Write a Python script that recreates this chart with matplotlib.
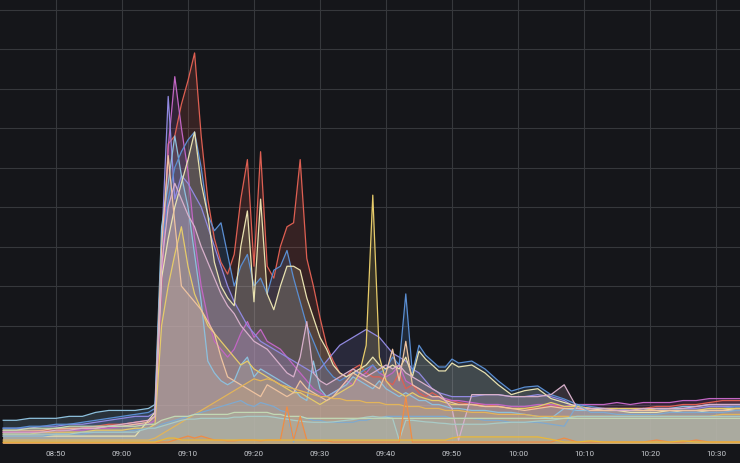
import numpy as np
import matplotlib
matplotlib.use('Agg')
import matplotlib.pyplot as plt

# minutes after 08:40 (1 min in the busy part, 2 min elsewhere)
minutes = list(range(2, 25, 2)) + list(range(25, 72)) + list(range(73, 116, 2))
tick_minutes = [10, 20, 30, 40, 50, 60, 70, 80, 90, 100, 110]
tick_labels = ['08:50', '09:00', '09:10', '09:20', '09:30', '09:40',
               '09:50', '10:00', '10:10', '10:20', '10:30']

red = [3, 3, 3, 3.5, 3.5, 4, 4, 4.5, 5, 5, 5.5, 6,
       7, 40, 76, 78, 86, 92, 99, 78, 62, 52,
       46, 43, 48, 62, 72, 45, 74, 45, 42, 50,
       55, 56, 72, 47, 40, 32, 25, 21, 18, 17,
       19, 20, 18, 17, 17, 16, 15, 18, 14, 15,
       13, 12, 13, 12, 11, 11, 10.5,
       10, 10, 9.5, 9, 9, 9, 10, 9, 9, 8.5, 9, 9, 9, 9, 9.5, 9.5, 10, 10, 10.5, 11, 11, 11]
magenta = [3, 3, 3, 3, 3, 3.5, 3.5, 4, 4, 4.5, 5, 5,
           6, 40, 75, 93, 80, 69, 52, 40, 32, 26,
           24, 22, 24, 28, 31, 27, 29, 26, 25, 24,
           22, 20, 18, 16, 14, 13, 12, 13, 14, 16,
           15, 17, 18, 20, 18, 17, 18, 20, 16, 15,
           14, 13, 12, 12, 11.5, 11, 11,
           10.5, 10, 10, 9.5, 9.5, 10, 10, 9.5, 10, 10, 10, 10.5, 10, 10.5, 10.5, 10.5, 11, 11, 11.5, 11.5, 11.5, 11.5]
lavender = [4, 4, 4, 4.5, 4.5, 5, 5, 5.5, 6, 6.5, 7, 7,
            8, 50, 88, 62, 68, 66, 63, 60, 55, 50,
            45, 40, 36, 33, 30, 28, 26, 25, 24, 23,
            22, 21, 20, 19, 18, 19, 21, 23, 25, 26,
            27, 28, 29, 28, 27, 25, 23, 22, 21, 19,
            18, 16, 14, 13, 12.5, 12, 12,
            12, 12.5, 12.5, 12, 12, 12.5, 12, 11, 9, 9, 8.5, 8.5, 8.5, 8.5, 8.5, 9, 9, 9, 9.5, 9.5, 9.5, 9.5]
light_blue = [6, 6, 6.5, 6.5, 6.5, 7, 7, 8, 8.5, 8.5, 8.5, 9,
              10, 55, 66, 78, 68, 60, 48, 36, 21, 18,
              16, 15, 16, 20, 22, 17, 19, 18, 17, 16,
              15, 14, 12, 11, 21, 14, 12, 13, 14, 15,
              17, 16, 15, 14, 16, 14, 13, 12, 13, 12,
              11, 11, 10, 10, 9.5, 9, 9,
              8.5, 8.5, 8, 8, 7.5, 7, 6.5, 9, 8.5, 8.5, 8.5, 8.5, 8.5, 8.5, 9, 9, 9.5, 9.5, 10, 10, 10, 10]
blue = [4, 4, 4.5, 4.5, 5, 5, 5.5, 6, 6.5, 7, 7.5, 8,
        9, 50, 62, 70, 74, 77, 79, 70, 58, 54,
        56, 48, 40, 45, 48, 40, 42, 38, 44, 45,
        49, 42, 36, 30, 26, 22, 19, 17, 16, 17,
        18, 18, 19, 20, 18, 19, 22, 20, 38, 18,
        25, 22.5, 21, 19.5, 19.5, 21.5, 20.5,
        21, 19, 16, 13.4, 14.4, 14.7, 12.5, 11.4, 10, 9.5, 9, 9, 8.5, 8.5, 8.5, 9, 8.5, 8.5, 9, 9, 9.5, 9.5]
cream = [2, 2, 2, 2, 2, 2, 2, 2, 2, 2, 2, 6,
         8, 42, 52, 60, 66, 72, 79, 66, 58, 46,
         40, 37, 35, 50, 59, 36, 62, 38, 34, 40,
         45, 45, 44, 37, 32, 27, 24, 20, 18, 17,
         18, 19, 20, 22, 20, 19, 20, 19, 22, 17,
         23.5, 21.5, 20, 18.5, 18.5, 20.5, 19.5,
         20, 18, 15, 12.5, 13.5, 14, 11.5, 10.5, 9.5, 9, 8.5, 8.5, 8, 8, 8, 8.5, 8, 8, 8.5, 8.5, 9, 9]
yellow = [2.5, 2.5, 2.5, 3, 3, 3, 3, 3.5, 3.5, 3.5, 4, 4,
          5, 30, 40, 48, 55, 45, 38, 34, 30, 28,
          26, 24, 22, 20, 21, 19, 18, 17, 16, 15,
          14, 13, 13, 12, 11, 10, 11, 12, 13, 14,
          15, 18, 25, 63, 22, 16, 14, 13, 12, 13,
          12, 11.5, 11, 11, 10.5, 10, 10,
          10, 9.5, 9.5, 9, 9, 9.5, 10.5, 9.5, 9.5, 9, 9, 9, 9, 9, 8.5, 8.5, 8.5, 8.5, 9, 9, 9, 9]
peach = [3.5, 3.5, 3.5, 3.5, 4, 4, 4, 4, 4.5, 4.5, 5, 5.5,
         7, 50, 73, 56, 40, 38, 36, 34, 31, 28,
         22, 17, 16, 15, 14, 13, 12, 15, 14, 13,
         12, 13, 16, 14, 13, 12, 11, 12, 14, 16,
         18, 17, 16, 15, 14, 18, 24, 16, 26, 15,
         14, 13, 12, 12, 11, 10.5, 10,
         10, 9.5, 9.5, 9, 8.5, 9, 9.5, 9, 9, 8.5, 8.5, 8.5, 8.5, 8.5, 8.5, 8.5, 8.5, 8.5, 8.5, 8.5, 8.5, 8.5]
pink = [3, 3, 3, 3, 3.5, 3.5, 4, 4, 4.5, 5, 5.5, 6,
        7, 45, 60, 66, 62, 58, 55, 50, 46, 42,
        38, 35, 33, 30, 28, 26, 25, 24, 22, 20,
        18, 17, 22, 31, 18, 16, 15, 16, 17, 18,
        19, 18, 17, 18, 19, 20, 19, 20, 18, 17,
        16, 15, 14, 13, 11, 9, 1,
        12.5, 12.5, 12.5, 12, 12, 12, 12.5, 15, 9, 9, 9, 8.5, 8.5, 9, 9, 9, 9, 9.5, 10, 10, 10, 10]
amber = [1, 1, 1, 1, 1, 1, 1, 1, 1, 1, 1, 1,
         1.5, 2.5, 3.5, 4.5, 5.5, 6.5, 7.5, 8.5, 9.5, 10.5,
         11.5, 12.5, 13.5, 14.5, 15.5, 16.5, 16, 16.5, 16, 15,
         14.5, 14, 13.5, 13, 12.5, 12, 12, 11.5, 11.5, 11,
         11, 11, 10.5, 10.5, 10.5, 10, 10, 10, 9.5, 9.5,
         9.5, 9, 9, 9, 8.5, 8.5, 8.5,
         8, 8, 7.5, 7.5, 7.5, 7, 7, 7, 7, 7, 7, 7, 7, 7, 7, 7, 7, 7, 7, 7.5, 7.5, 7.5]
steel = [2, 2, 2, 2, 2.5, 2.5, 2.5, 3, 3, 3, 3.5, 4,
         4, 5, 5.5, 6, 6.5, 7, 7.5, 8, 8.5, 9,
         9.5, 10, 10.5, 11, 10, 9.5, 10.5, 10, 9.5, 8.5,
         8, 0.5, 7, 6.5, 6, 6, 5.5, 5.5, 5.5, 5.5,
         5.5, 6, 6, 6.5, 6.5, 7, 7, 7, 7, 7,
         7, 7, 7, 7, 7, 6.5, 6.5,
         6.5, 6, 6, 5.5, 5.5, 5.5, 5, 4.5, 10, 8, 8, 7.5, 7.5, 7.5, 7.5, 8, 8, 8, 8, 8, 8.5, 8.5]
teal = [2.5, 2.5, 2.5, 2.5, 2.5, 2.5, 3, 3, 3, 3, 3, 4,
        4, 4.5, 5, 5.5, 6, 6.3, 6.3, 6.5, 6.5, 6.5,
        6.5, 6.5, 6.8, 6.8, 7, 7, 7, 7, 6.8, 6.5,
        6.3, 6, 5.8, 5.6, 5.5, 5.5, 5.5, 5.6, 5.8, 6,
        6.2, 6.5, 6.8, 7, 6.8, 6.8, 6.5, 1, 6, 6,
        5.8, 5.6, 5.5, 5.3, 5.2, 5, 5,
        5, 5, 5.3, 5.5, 5.5, 5.8, 6, 6.5, 7, 7, 7, 7, 7, 7, 7, 7, 7, 7, 7, 7, 7, 7]
pale_green = [3.5, 3.5, 4, 4, 4, 4.5, 4.5, 4.5, 4.5, 4.5, 4.5, 5,
              5, 6, 6.5, 7, 7, 7, 7.5, 7.5, 7.5, 7.5,
              7.5, 7.5, 8, 8, 8, 8, 8, 8, 7.5, 7.5,
              7, 7, 7, 6.5, 6.5, 6.5, 6.5, 6.5, 6.5, 6.5,
              6.5, 6.5, 6.5, 6.5, 6.5, 6.5, 6.5, 6.5, 6.5, 6.5,
              6.5, 6.5, 6.5, 6.5, 6.5, 6.5, 6.5,
              6.5, 6.5, 6.5, 6.5, 6.5, 6.5, 6.5, 6.5, 6.5, 6.5, 6.5, 6.5, 6.5, 6.5, 6.5, 6.5, 6.5, 6.5, 6.5, 6.5, 6.5, 6.5]
orange = [0.3, 0.3, 0.3, 0.3, 0.3, 0.3, 0.3, 0.3, 0.3, 0.3, 0.3, 0.3,
          0.3, 0.5, 0.5, 1, 1.5, 2, 1.5, 2, 1.5, 1,
          1, 0.8, 0.8, 1, 1, 1, 0.8, 1, 1, 1,
          9.4, 1, 7, 1, 0.8, 0.8, 0.8, 0.5, 0.5, 0.5,
          0.5, 0.5, 0.5, 0.5, 0.5, 0.5, 0.5, 0.5, 12, 0.5,
          0.5, 0.5, 0.5, 0.5, 0.5, 0.5, 0.5,
          0.5, 0.5, 0.5, 0.5, 0.5, 0.5, 0.5, 1.5, 0.5, 0.5, 0.5, 0.5, 0.5, 0.5, 1, 0.5, 0.5, 1, 0.5, 0.5, 0.5, 0.5]
gold = [0.5, 0.5, 0.5, 0.5, 0.5, 0.5, 0.5, 0.5, 0.5, 0.5, 0.5, 0.5,
        0.5, 1, 1.5, 1.5, 1, 1, 1, 1, 1, 1,
        1, 1, 1, 1, 1, 1, 1, 1, 1, 1,
        1, 1, 1, 1, 1, 1, 1, 1, 1, 1,
        1, 1, 1, 1, 1, 1, 1, 1, 1, 1,
        1, 1, 1, 1, 1, 1.5, 1.8,
        1.8, 1.8, 1.8, 1.8, 1.8, 1.8, 1.2, 0.5, 0.5, 0.8, 0.5, 0.5, 0.5, 0.5, 0.5, 0.5, 0.8, 0.5, 0.5, 0.5, 0.5, 0.5]

series = [
    (red, '#DE5F52'), (magenta, '#C266C4'), (lavender, '#9189E0'),
    (light_blue, '#8DC0DD'), (blue, '#5A8ED2'), (cream, '#E9E2B0'),
    (yellow, '#E6CB6A'), (peach, '#EEC3A0'), (pink, '#D8B0CB'),
    (amber, '#E2B45A'), (steel, '#7FA9CF'), (teal, '#A9CBC6'),
    (pale_green, '#C3D9B4'), (orange, '#EF8C45'), (gold, '#EAB839'),
]

bg = '#15161a'
fig = plt.figure(figsize=(7.4, 4.64), dpi=100, facecolor=bg)
ax = fig.add_axes([0, 19 / 464, 1, 445 / 464])
ax.set_facecolor(bg)

x = np.array(minutes)
# each series: line then its fill on top (washes out the lines underneath)
for vals, col in series:
    ax.plot(x, vals, color=col, linewidth=0.9)
    ax.fill_between(x, 0, vals, color=col, alpha=0.17, linewidth=0)

ax.set_xlim(1.515, 113.64)
ax.set_ylim(0, 112.66)
ax.set_xticks(tick_minutes)
ax.set_xticklabels(tick_labels, fontsize=5.8, color='#c8cbd0', family='Roboto')
ax.set_yticks(np.arange(0, 111, 10))
ax.tick_params(axis='both', length=0)
ax.tick_params(axis='x', pad=4.2)
ax.tick_params(axis='y', labelleft=False)
ax.grid(True, color='#36383c', linewidth=0.8)
ax.set_axisbelow(True)
for s in ax.spines.values():
    s.set_visible(False)

fig.savefig('out.png', dpi=100, facecolor=bg)
